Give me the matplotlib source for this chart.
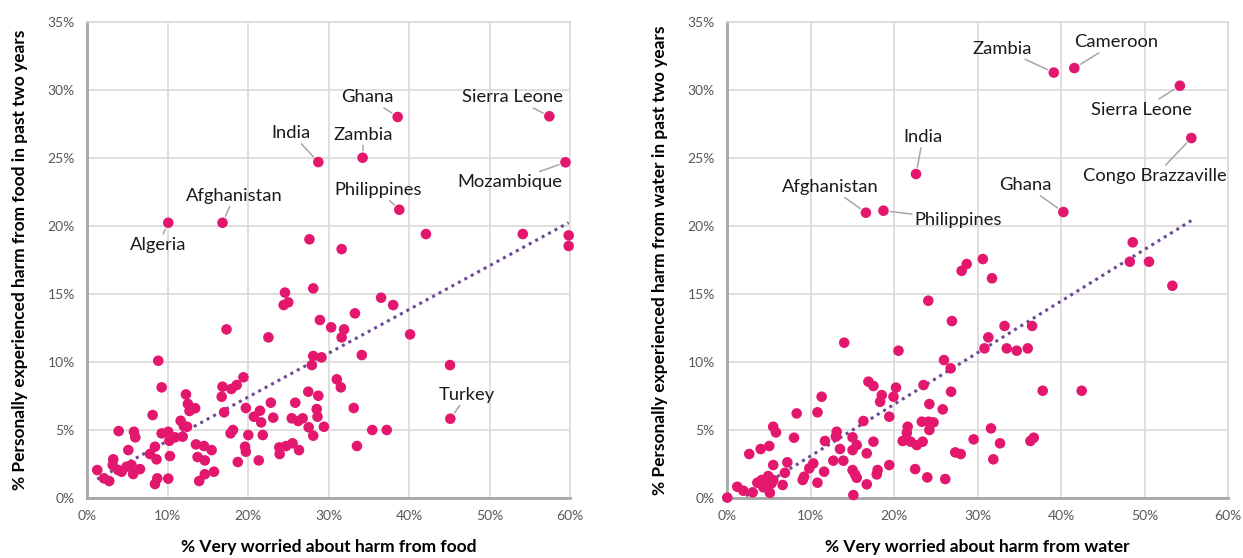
import numpy as np
import matplotlib
matplotlib.use("Agg")
import matplotlib.pyplot as plt
from matplotlib.ticker import FuncFormatter, MultipleLocator

plt.rcParams["font.family"] = ["Lato", "DejaVu Sans"]

# ---- food: % very worried (x) vs % experienced harm (y) ----
food_x = [1.24, 2.07, 2.73, 3.23, 3.16, 3.85, 4.27, 3.9, 5.1, 4.9, 5.5, 5.7, 5.8, 5.97, 6.55,
          8.12, 8.82, 9.24, 7.79, 8.41, 8.6, 8.41, 8.7, 9.24, 10.06, 10.2, 10.27, 10.06, 10.9,
          11.6, 12.26, 12.5, 12.7, 13.4, 12.0, 12.4, 11.85, 13.5, 13.7, 14.5, 14.6, 15.45, 13.9,
          14.6, 15.74, 16.8, 16.7, 17.9, 18.56, 19.4, 17.3, 17.0, 17.8, 18.1, 18.7, 19.6, 19.7,
          19.7, 20.0, 20.7, 21.45, 21.6, 21.8, 21.3, 22.5, 22.8, 23.1, 23.85, 23.9, 24.7, 25.5,
          26.3, 24.56, 24.4, 24.97, 28.07, 28.9, 30.3, 25.4, 25.84, 26.2, 26.76, 27.45, 27.5,
          28.07, 27.9, 28.07, 29.1, 28.7, 28.5, 28.6, 29.4, 31.0, 31.5, 31.6, 36.5, 38.0, 33.25,
          31.9, 31.6, 40.1, 34.1, 45.06, 33.1, 35.4, 37.2, 33.5, 27.6, 42.07, 54.1, 59.8, 59.8]
food_y = [2.03, 1.42, 1.22, 2.82, 2.40, 2.03, 1.91, 4.9, 3.5, 2.28, 2.4, 1.74, 4.85, 4.44, 2.1,
          6.08, 10.08, 8.12, 3.21, 3.75, 2.82, 1.0, 1.42, 4.73, 4.85, 4.19, 3.06, 1.4, 4.44,
          5.66, 7.6, 6.9, 6.38, 6.58, 5.27, 5.22, 4.49, 3.92, 2.99, 3.8, 2.74, 3.5, 1.22,
          1.72, 1.91, 8.17, 7.43, 8.0, 8.29, 8.86, 12.39, 6.28, 4.73, 4.98, 2.62, 3.75, 3.38,
          6.6, 4.61, 5.96, 6.4, 5.54, 4.61, 2.74, 11.8, 6.99, 5.89, 3.7, 3.21, 3.8, 4.0,
          3.5, 15.1, 14.18, 14.38, 15.41, 13.08, 12.54, 5.84, 6.99, 5.64, 5.84, 7.8, 5.18,
          4.56, 9.76, 10.43, 10.33, 7.5, 6.52, 5.96, 5.22, 8.71, 8.12, 18.3, 14.72, 14.18, 13.57,
          12.39, 11.8, 12.02, 10.5, 9.76, 6.6, 4.98, 4.98, 3.8, 19.02, 19.41, 19.41, 19.31, 18.53]

food_names = ["Algeria", "Afghanistan", "India", "Ghana", "Zambia", "Philippines",
              "Sierra Leone", "Mozambique", "Turkey"]
food_name_x = [10.06, 16.8, 28.7, 38.56, 34.2, 38.76, 57.4, 59.4, 45.1]
food_name_y = [20.24, 20.24, 24.71, 28.03, 25.03, 21.2, 28.08, 24.69, 5.81]

# ---- water: % very worried (x) vs % experienced harm (y) ----
water_x = [0.0, 1.2, 1.92, 3.04, 2.63, 3.6, 4.12, 4.32, 4.9, 5.1, 5.3, 5.5, 4.0, 5.03, 5.5,
           5.83, 5.5, 6.63, 6.9, 7.19, 7.99, 8.31, 9.03, 9.2, 9.82, 10.3, 10.8, 10.8, 11.3,
           11.6, 11.7, 12.7, 13.1, 13.0, 13.5, 14.0, 13.9, 15.0, 15.0, 15.5, 15.0, 15.3, 15.5,
           15.1, 16.3, 16.7, 16.7, 17.5, 16.9, 17.5, 18.5, 18.3, 17.9, 18.0, 19.4, 19.4, 19.9,
           20.2, 20.5, 21.0, 21.5, 21.6, 21.96, 22.7, 22.5, 23.3, 23.4, 23.5, 24.07, 24.2, 24.2,
           24.1, 24.7, 23.95, 25.8, 25.95, 26.75, 26.9, 26.8, 26.1, 27.3, 27.95, 28.07, 28.67,
           29.5, 30.6, 31.7, 48.2, 50.5, 53.3, 33.2, 36.5, 31.26, 30.8, 33.46, 34.66, 35.98,
           37.77, 42.44, 31.58, 32.66, 31.86, 36.3, 36.7, 48.55]
water_y = [0.0, 0.8, 0.51, 0.39, 3.21, 1.1, 1.3, 0.76, 1.59, 0.36, 1.05, 1.3, 3.58, 3.8, 5.22,
           4.8, 2.4, 0.93, 1.83, 2.6, 4.41, 6.2, 1.3, 1.54, 2.16, 2.52, 1.1, 6.28, 7.43,
           1.91, 4.17, 2.72, 4.85, 4.49, 3.58, 11.41, 2.72, 4.44, 3.5, 3.87, 2.03, 1.71, 1.46,
           0.19, 5.64, 3.26, 0.98, 4.12, 8.54, 8.22, 7.55, 7.06, 1.71, 2.03, 5.96, 2.4, 7.43,
           8.1, 10.82, 4.17, 4.78, 5.22, 4.12, 3.87, 2.1, 5.59, 4.12, 8.29, 14.5, 4.98, 6.89,
           5.59, 5.54, 1.49, 6.5, 10.13, 9.52, 13.0, 7.8, 1.37, 3.33, 3.21, 16.7, 17.2,
           4.29, 17.57, 16.15, 17.37, 17.37, 15.6, 12.64, 12.64, 11.8, 10.99, 10.99, 10.82, 10.99,
           7.87, 7.87, 5.1, 4.0, 2.82, 4.17, 4.41, 18.8]

water_names = ["Zambia", "Cameroon", "Sierra Leone", "Congo Brazzaville", "Ghana",
               "India", "Afghanistan", "Philippines"]
water_name_x = [39.1, 41.56, 54.2, 55.57, 40.24, 22.6, 16.6, 18.7]
water_name_y = [31.3, 31.63, 30.33, 26.48, 21.03, 23.83, 20.98, 21.13]

# label offsets from the point, in pixels
food_offsets = [(-10, -22), (12, 27), (-27, 29), (-30, 20), (1, 23), (-21, 20),
                (-37, 19), (-56, -20), (17, 24)]
water_offsets = [(-52, 24), (42, 26), (-38, -24), (-36, -38), (-38, 27),
                 (7, 37), (-36, 26), (75, -9)]

DOT = "#E3176E"
TREND = "#6F4A94"
GRID = "#D9D9D9"


def draw(ax, xs, ys, names, nx, ny, offsets, xmax, xlabel, ylabel):
    allx = np.array(xs + nx)
    ally = np.array(ys + ny)

    ax.grid(True, color=GRID, linewidth=1.2, zorder=0)
    ax.set_axisbelow(True)

    # linear trend over all countries
    slope, icpt = np.polyfit(allx, ally, 1)
    tx = np.array([allx.min(), allx.max()])
    ax.plot(tx, slope * tx + icpt, color=TREND, lw=2.2, linestyle=(0, (1, 1.4)),
            zorder=2)

    ax.scatter(allx, ally, s=58, color=DOT, edgecolors="none", zorder=3, clip_on=False)

    for name, x, y, off in zip(names, nx, ny, offsets):
        ax.annotate(name, (x, y), xytext=off, textcoords="offset pixels",
                    ha="center", va="center", fontsize=13.2, color="#1a1a1a",
                    arrowprops=dict(arrowstyle="-", color="#A6A6A6", lw=1.1,
                                    shrinkA=0, shrinkB=5), zorder=4)

    ax.set_xlim(0, xmax)
    ax.set_ylim(0, 35)
    ax.xaxis.set_major_locator(MultipleLocator(10))
    ax.yaxis.set_major_locator(MultipleLocator(5))
    pct = FuncFormatter(lambda v, p: f"{v:.0f}%")
    ax.xaxis.set_major_formatter(pct)
    ax.yaxis.set_major_formatter(pct)
    ax.tick_params(length=0, labelsize=10, labelcolor="#595959", pad=9)

    for s in ("top", "right"):
        ax.spines[s].set_color(GRID)
        ax.spines[s].set_linewidth(1.2)
    for s in ("left", "bottom"):
        ax.spines[s].set_color("#A6A6A6")
        ax.spines[s].set_linewidth(2)

    ax.set_xlabel(xlabel, fontsize=12.5, fontweight="bold", labelpad=12)
    ax.set_ylabel(ylabel, fontsize=12.5, fontweight="bold", labelpad=14)


fig = plt.figure(figsize=(12.43, 5.58), dpi=100)
ax1 = fig.add_axes([0.0702, 0.1082, 0.3886, 0.8518])
ax2 = fig.add_axes([0.5851, 0.1082, 0.4031, 0.8518])

draw(ax1, food_x, food_y, food_names, food_name_x, food_name_y, food_offsets, 60,
     "% Very worried about harm from food",
     "% Personally experienced harm from food in past two years")
draw(ax2, water_x, water_y, water_names, water_name_x, water_name_y, water_offsets, 60,
     "% Very worried about harm from water",
     "% Personally experienced harm from water in past two years")

fig.savefig("out.png", dpi=100)
